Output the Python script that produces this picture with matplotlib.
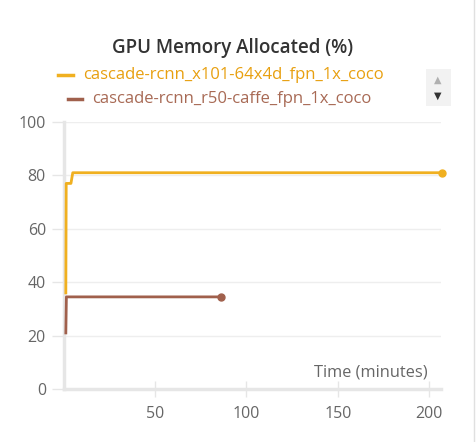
import matplotlib.pyplot as plt
from matplotlib.lines import Line2D
from matplotlib.patches import Rectangle

# run 1: cascade-rcnn_x101-64x4d_fpn_1x_coco
x101_time = [1.2, 1.4, 4.0, 5.0, 207]
x101_mem = [36, 77, 77, 81, 81]

# run 2: cascade-rcnn_r50-caffe_fpn_1x_coco
r50_time = [1.2, 1.5, 86]
r50_mem = [21, 34.5, 34.5]

names = ["cascade-rcnn_x101-64x4d_fpn_1x_coco", "cascade-rcnn_r50-caffe_fpn_1x_coco"]
colors = ["#f0b020", "#a0604c"]
text_colors = ["#e8a010", "#a86a55"]

W, H = 477, 442
plt.rcParams["font.family"] = ["Open Sans", "DejaVu Sans"]
fig = plt.figure(figsize=(W / 100, H / 100), dpi=100)
ax = fig.add_axes([64 / W, 1 - 389 / H, (441 - 64) / W, (389 - 122) / H])

ax.plot(x101_time, x101_mem, color=colors[0], lw=2, zorder=4, clip_on=False)
ax.plot(x101_time[-1], x101_mem[-1], "o", color=colors[0], ms=5, zorder=4, clip_on=False)
ax.plot(r50_time, r50_mem, color=colors[1], lw=2, zorder=4, clip_on=False)
ax.plot(r50_time[-1], r50_mem[-1], "o", color=colors[1], ms=5, zorder=4, clip_on=False)

ax.set_xlim(0.2, 206.5)
ax.set_ylim(0, 100)
ax.set_yticks([0, 20, 40, 60, 80, 100])
ax.set_xticks([50, 100, 150, 200])
ax.grid(axis="y", color="#eeeeee", lw=1)
ax.set_axisbelow(True)
for s in ["top", "right"]:
    ax.spines[s].set_visible(False)
for s in ["left", "bottom"]:
    ax.spines[s].set_color("#e6e6e6")
    ax.spines[s].set_linewidth(2.5)
    ax.spines[s].set_zorder(2)
ax.tick_params(axis="y", length=9, width=1, color="#e6e6e6", labelcolor="#666666",
               labelsize=11.5, pad=4)
ax.tick_params(axis="x", direction="inout", length=12, width=1, color="#e6e6e6",
               labelcolor="#666666", labelsize=11.5, pad=6)
ax.text(0.965, 0.03, "Time (minutes)", transform=ax.transAxes, ha="right", va="bottom",
        fontsize=11.8, color="#666666")

fig.text(233 / W, 1 - 48 / H, "GPU Memory Allocated (%)", ha="center", va="center",
         fontsize=13.5, fontweight="semibold", color="#333333")

# legend drawn by hand
leg_rows = [(58, 73, 83, 75), (68, 82, 92, 99)]
for (h0, h1, tx, ty), name, c, tc in zip(leg_rows, names, colors, text_colors):
    fig.add_artist(Line2D([h0 / W, h1 / W], [1 - ty / H, 1 - ty / H], color=c, lw=2.5))
    fig.text(tx / W, 1 - ty / H, name, ha="left", va="center", fontsize=12, color=tc)

fig.add_artist(Rectangle((426 / W, 1 - 106 / H), 25 / W, 37 / H, color="#f2f2f2", lw=0))
fig.text(438 / W, 1 - 80 / H, "\u25b2", ha="center", va="center", fontsize=7, color="#b0b0b0")
fig.text(438 / W, 1 - 96 / H, "\u25bc", ha="center", va="center", fontsize=7, color="#333333")
fig.add_artist(Line2D([474 / W, 474 / W], [0, 1], color="#e0e0e0", lw=1))

fig.savefig("out.png", dpi=100)
